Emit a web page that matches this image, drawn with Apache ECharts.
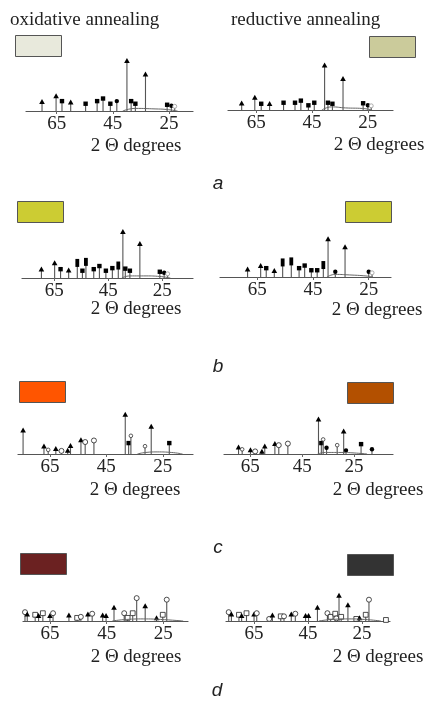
<!DOCTYPE html>
<html>
<head>
<meta charset="utf-8">
<script src="https://cdn.jsdelivr.net/npm/echarts@6/dist/echarts.min.js"></script>
<style>
  html, body { margin: 0; padding: 0; background: #fff; }
  #chart { width: 426px; height: 704px; }
</style>
</head>
<body>
<div id="chart"></div>
<script>
// peaks: [2 theta, intensity, marker]  t=triangle s=square r=tall bar c=dot o=open ring q=open square h=hook x=small ring
const aOx = [[70.2,17,'t'],[65.2,28,'t'],[63.1,19,'s'],[60.0,16,'t'],[54.7,14,'s'],[50.6,19,'s'],[48.5,24,'s'],[45.9,14,'s'],[43.6,19,'c'],[40.0,96,'t'],[38.5,19,'s'],[37.0,14,'s'],[33.4,70,'t'],[25.7,12,'s'],[24.2,10,'c'],[23.0,9,'x']];
const aRe = [[70.2,12,'t'],[65.5,23,'t'],[63.2,12,'s'],[60.2,11,'t'],[55.2,14,'s'],[51.1,14,'s'],[49.0,18,'s'],[46.3,9,'s'],[44.2,14,'s'],[40.5,85,'t'],[39.3,14,'s'],[37.7,12,'s'],[33.9,59,'t'],[26.7,13,'s'],[25.0,9,'c'],[23.8,8,'x']];
const bOx = [[69.8,16,'t'],[64.9,28,'t'],[62.7,17,'s'],[59.7,14,'t'],[56.5,29,'r'],[54.6,14,'s'],[53.3,31,'r'],[50.4,17,'s'],[48.3,23,'s'],[45.9,14,'s'],[43.5,19,'s'],[41.3,24,'r'],[39.6,88,'t'],[38.7,18,'s'],[37.0,14,'s'],[33.3,65,'t'],[25.9,12,'s'],[24.3,10,'c'],[23.0,8,'x']];
const bRe = [[68.5,14,'t'],[63.8,21,'t'],[61.8,17,'s'],[58.9,11,'t'],[55.9,28,'r'],[52.8,30,'r'],[50.0,17,'s'],[48.0,22,'s'],[45.6,13,'s'],[43.5,13,'s'],[41.3,23,'r'],[39.6,72,'t'],[37.0,10,'c'],[33.5,57,'t'],[25.0,10,'c'],[23.8,8,'x']];
const cOx = [[74.5,45,'t'],[67.1,14,'t'],[65.6,8,'h'],[62.9,9,'t'],[60.9,6,'o'],[58.7,6,'t'],[57.7,15,'t'],[54.0,26,'t'],[52.5,23,'o'],[49.4,26,'o'],[38.3,75,'t'],[37.1,21,'s'],[36.3,35,'h'],[31.3,15,'h'],[29.1,52,'t'],[22.7,21,'s']];
const cRe = [[69.5,12,'t'],[68.1,9,'h'],[64.9,7,'t'],[63.1,5,'o'],[60.5,4,'t'],[59.4,14,'t'],[55.5,19,'t'],[54.0,17,'o'],[50.5,20,'o'],[38.7,66,'t'],[37.6,21,'s'],[36.9,28,'h'],[35.6,12,'c'],[31.5,17,'h'],[29.0,43,'t'],[28.1,7,'c'],[22.3,19,'s'],[18.1,9,'c']];
const dOx = [[73.8,17,'o'],[73.0,12,'t'],[70.2,12,'q'],[69.0,9,'t'],[67.5,15,'q'],[65.0,9,'t'],[63.9,15,'o'],[58.3,10,'t'],[55.4,6,'q'],[54.1,8,'o'],[51.6,12,'t'],[50.1,14,'o'],[46.4,10,'t'],[45.2,9,'t'],[42.4,25,'t'],[38.8,15,'o'],[37.6,6,'q'],[35.8,15,'q'],[34.4,44,'o'],[31.4,28,'t'],[27.4,5,'t'],[25.2,12,'q'],[23.8,41,'o']];
const dRe = [[74.4,17,'o'],[73.4,12,'t'],[70.6,12,'q'],[69.6,9,'t'],[67.8,15,'q'],[65.0,12,'t'],[64.0,15,'o'],[59.4,4,'o'],[58.2,10,'t'],[55.1,9,'q'],[53.9,9,'o'],[51.2,12,'t'],[49.7,14,'o'],[45.9,9,'t'],[44.8,9,'t'],[41.5,25,'t'],[37.8,15,'o'],[36.6,8,'q'],[34.9,14,'q'],[34.5,5,'o'],[33.5,48,'t'],[32.7,8,'q'],[30.2,30,'t'],[27.1,4,'q'],[25.9,5,'t'],[23.6,12,'q'],[22.4,41,'o'],[16.1,2,'q']];

// broad amorphous background under the peaks
const aOxHump = [[41.5,0],[37,5],[30,4],[26,3],[22,0]];
const aReHump = [[41.5,0],[38,6],[33,4],[27,3],[23.5,0]];
const bOxHump = [[40,0],[37,4],[31,4],[26,3],[22,0]];
const bReHump = [[40,0],[37,5],[32,4],[26,2],[23.5,0]];
const cOxHump = [[34,0],[31,3],[27,4],[22,3],[18,0]];
const cReHump = [[39,0],[36,3],[30,3],[25,2],[20,0]];
const dOxHump = [[43,0],[38,3],[32,4],[26,3],[18,0]];
const dReHump = [[41,0],[36,3],[30,4],[24,3],[18,0]];

const tickValues = [65, 45, 25];
const swatchColors = ['#e8e9dc', '#cbcb9b', '#cccc33', '#cccc33', '#ff5500', '#b35000', '#6b2121', '#333333'];
const panelLetters = ['a', 'b', 'c', 'd'];

const peaks = [aOx, aRe, bOx, bRe, cOx, cRe, dOx, dRe];
const humps = [aOxHump, aReHump, bOxHump, bReHump, cOxHump, cReHump, dOxHump, dReHump];

// grid placement: left, width, baseline y, axis min, axis max
const layout = [
  [26, 167, 111, 16.5, 75.9],
  [228, 165, 110, 16.0, 75.1],
  [22, 171, 278, 13.6, 77.0],
  [220, 171, 277, 17.0, 78.4],
  [18, 175, 454, 14.3, 76.3],
  [224, 169, 454, 10.0, 75.1],
  [23, 165, 621, 16.3, 74.5],
  [226, 164, 621, 14.6, 75.4]
];
const swatchBoxes = [
  [15, 35], [369, 36], [17, 201], [345, 201], [19, 381], [347, 382], [20, 553], [347, 554]
];
const axisTitlePos = [[136, 146], [379, 145], [136, 309], [377, 310], [135, 490], [378, 490], [136, 657], [378, 657]];
const letterPos = [[218, 184], [218, 367], [218, 548], [217, 691]];

const serif = '"Liberation Serif", "DejaVu Serif", serif';

function marker(kind, x, y) {
  if (kind === 't') {
    return { type: 'polygon', shape: { points: [[x, y - 3.2], [x - 2.8, y + 1.8], [x + 2.8, y + 1.8]] }, style: { fill: '#000' } };
  }
  if (kind === 's') {
    return { type: 'rect', shape: { x: x - 2.2, y: y - 2.2, width: 4.4, height: 4.4 }, style: { fill: '#000' } };
  }
  if (kind === 'r') {
    return { type: 'rect', shape: { x: x - 1.9, y: y - 4, width: 3.8, height: 8 }, style: { fill: '#000' } };
  }
  if (kind === 'c') {
    return { type: 'circle', shape: { cx: x, cy: y, r: 2.2 }, style: { fill: '#000' } };
  }
  if (kind === 'o') {
    return { type: 'circle', shape: { cx: x, cy: y, r: 2.5 }, style: { fill: '#fff', stroke: '#222', lineWidth: 0.8 } };
  }
  if (kind === 'q') {
    return { type: 'rect', shape: { x: x - 2.4, y: y - 2.4, width: 4.8, height: 4.8 }, style: { fill: '#fff', stroke: '#222', lineWidth: 0.8 } };
  }
  if (kind === 'h') {
    return { type: 'circle', shape: { cx: x, cy: y, r: 1.8 }, style: { fill: '#fff', stroke: '#333', lineWidth: 0.8 } };
  }
  return { type: 'circle', shape: { cx: x, cy: y, r: 2 }, style: { fill: '#fff', stroke: '#999', lineWidth: 0.8 } };
}

function stickRenderer(list) {
  return function (params, api) {
    let p = list[params.dataIndex];
    let base = api.coord([p[0], 0]);
    let top = api.coord([p[0], p[1]]);
    return {
      type: 'group',
      children: [
        { type: 'line', shape: { x1: base[0], y1: base[1], x2: top[0], y2: top[1] }, style: { stroke: '#555', lineWidth: 1.1 } },
        marker(p[2], top[0], top[1])
      ]
    };
  };
}

let grids = [], xAxes = [], yAxes = [], series = [], graphics = [];
layout.forEach(function (l, i) {
  grids.push({ left: l[0], width: l[1], top: l[2] - 52, height: 52 });
  xAxes.push({
    type: 'value', gridIndex: i, inverse: true, min: l[3], max: l[4],
    splitLine: { show: false },
    axisLine: { onZero: false, lineStyle: { color: '#555', width: 1.2 } },
    axisTick: { customValues: tickValues, length: 3, lineStyle: { color: '#666' } },
    axisLabel: { customValues: tickValues, margin: 4, color: '#222', fontSize: 19, fontFamily: serif }
  });
  yAxes.push({ type: 'value', gridIndex: i, min: 0, max: 100, show: false });
  series.push({
    type: 'line', xAxisIndex: i, yAxisIndex: i, data: humps[i], smooth: true,
    symbol: 'none', lineStyle: { color: '#666', width: 1 }, silent: true
  });
  series.push({
    type: 'custom', xAxisIndex: i, yAxisIndex: i,
    data: peaks[i].map(function (p) { return [p[0], p[1]]; }),
    encode: { x: 0, y: 1 },
    renderItem: stickRenderer(peaks[i]),
    silent: true
  });
  graphics.push({
    type: 'rect', left: swatchBoxes[i][0], top: swatchBoxes[i][1],
    shape: { width: 46, height: 21 },
    style: { fill: swatchColors[i], stroke: '#555', lineWidth: 1 }
  });
  graphics.push({
    type: 'text', x: axisTitlePos[i][0], y: axisTitlePos[i][1],
    style: { text: '2 Θ degrees', font: '19px ' + serif, fill: '#222', align: 'center', verticalAlign: 'middle' }
  });
});

graphics.push({ type: 'text', x: 10, y: 20, style: { text: 'oxidative annealing', font: '19px ' + serif, fill: '#222', verticalAlign: 'middle' } });
graphics.push({ type: 'text', x: 231, y: 20, style: { text: 'reductive annealing', font: '19px ' + serif, fill: '#222', verticalAlign: 'middle' } });
panelLetters.forEach(function (t, i) {
  graphics.push({
    type: 'text', x: letterPos[i][0], y: letterPos[i][1],
    style: { text: t, font: 'italic 19px "Liberation Sans", Arial, sans-serif', fill: '#222', align: 'center', verticalAlign: 'middle' }
  });
});

let myChart = echarts.init(document.getElementById('chart'));
myChart.setOption({
  backgroundColor: '#fff',
  animation: false,
  grid: grids,
  xAxis: xAxes,
  yAxis: yAxes,
  series: series,
  graphic: graphics
});
window.addEventListener('resize', function () {
  myChart.resize();
});
</script>
</body>
</html>
